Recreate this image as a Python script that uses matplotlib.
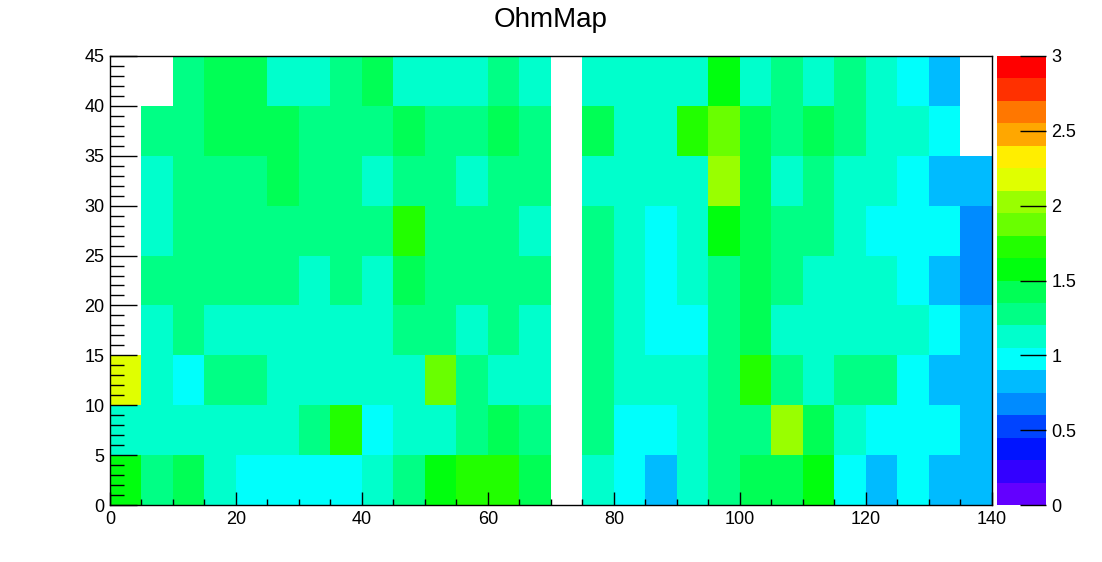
import numpy as np
import matplotlib
matplotlib.use("Agg")
import matplotlib.pyplot as plt
from matplotlib.colors import ListedColormap, BoundaryNorm
from matplotlib.ticker import MultipleLocator

plt.rcParams['font.family'] = ['Liberation Sans', 'DejaVu Sans']

# bin edges of the 2D histogram
x_edges = np.arange(0, 145, 5)
y_edges = np.arange(0, 50, 5)

# cell contents, top row (y 40-45) first; 0 = empty bin
ohm_rows = [
    [0, 0, 1.28, 1.43, 1.43, 1.13, 1.13, 1.28, 1.43, 1.13, 1.13, 1.13, 1.28, 1.13, 0, 1.13, 1.13, 1.13, 1.13, 1.58, 1.13, 1.28, 1.13, 1.28, 1.13, 0.98, 0.83, 0],
    [0, 1.28, 1.28, 1.43, 1.43, 1.43, 1.28, 1.28, 1.28, 1.43, 1.28, 1.28, 1.43, 1.28, 0, 1.43, 1.13, 1.13, 1.73, 1.88, 1.43, 1.28, 1.43, 1.28, 1.13, 1.13, 0.98, 0],
    [0, 1.13, 1.28, 1.28, 1.28, 1.43, 1.28, 1.28, 1.13, 1.28, 1.28, 1.13, 1.28, 1.28, 0, 1.13, 1.13, 1.13, 1.13, 2.03, 1.43, 1.13, 1.28, 1.13, 1.13, 0.98, 0.83, 0.83],
    [0, 1.13, 1.28, 1.28, 1.28, 1.28, 1.28, 1.28, 1.28, 1.73, 1.28, 1.28, 1.28, 1.13, 0, 1.28, 1.13, 0.98, 1.13, 1.58, 1.43, 1.28, 1.28, 1.13, 0.98, 0.98, 0.98, 0.68],
    [0, 1.28, 1.28, 1.28, 1.28, 1.28, 1.13, 1.28, 1.13, 1.43, 1.28, 1.28, 1.28, 1.28, 0, 1.28, 1.13, 0.98, 1.13, 1.28, 1.43, 1.28, 1.13, 1.13, 1.13, 0.98, 0.83, 0.68],
    [0, 1.13, 1.28, 1.13, 1.13, 1.13, 1.13, 1.13, 1.13, 1.28, 1.28, 1.13, 1.28, 1.13, 0, 1.28, 1.13, 0.98, 0.98, 1.28, 1.43, 1.13, 1.13, 1.13, 1.13, 1.13, 0.98, 0.83],
    [2.18, 1.13, 0.98, 1.28, 1.28, 1.13, 1.13, 1.13, 1.13, 1.13, 1.88, 1.28, 1.13, 1.13, 0, 1.28, 1.13, 1.13, 1.13, 1.28, 1.73, 1.28, 1.13, 1.28, 1.28, 0.98, 0.83, 0.83],
    [1.13, 1.13, 1.13, 1.13, 1.13, 1.13, 1.28, 1.73, 0.98, 1.13, 1.13, 1.28, 1.43, 1.28, 0, 1.28, 0.98, 0.98, 1.13, 1.28, 1.28, 2.03, 1.43, 1.13, 0.98, 0.98, 0.98, 0.83],
    [1.58, 1.28, 1.43, 1.13, 0.98, 0.98, 0.98, 0.98, 1.13, 1.28, 1.58, 1.73, 1.73, 1.43, 0, 1.13, 0.98, 0.83, 1.13, 1.28, 1.43, 1.43, 1.58, 0.98, 0.83, 0.98, 0.83, 0.83],
]

z_min, z_max, n_levels = 0.0, 3.0, 20
palette = ['#6300ff', '#3300ff', '#0014ff', '#0044ff', '#008bff',
           '#00bbff', '#00fffc', '#00ffcc', '#00ff85', '#00ff55',
           '#00ff0e', '#22ff00', '#69ff00', '#99ff00', '#e0ff00',
           '#ffee00', '#ffa700', '#ff7700', '#ff3000', '#ff0000']

W, H = 1102, 562
fig = plt.figure(figsize=(W / 100, H / 100), dpi=100)
ax = fig.add_axes([110 / W, 1 - 505 / H, (992 - 110) / W, (505 - 56) / H])
cax = fig.add_axes([997 / W, 1 - 505 / H, (1046 - 997) / W, (505 - 56) / H])

z = np.array(ohm_rows[::-1])
z = np.ma.masked_where(z <= 0, z)
cmap = ListedColormap(palette)
norm = BoundaryNorm(np.linspace(z_min, z_max, n_levels + 1), cmap.N)
mesh = ax.pcolormesh(x_edges, y_edges, z, cmap=cmap, norm=norm, zorder=1)

ax.set_xlim(x_edges[0], x_edges[-1])
ax.set_ylim(y_edges[0], y_edges[-1])
ax.xaxis.set_major_locator(MultipleLocator(20))
ax.xaxis.set_minor_locator(MultipleLocator(5))
ax.yaxis.set_major_locator(MultipleLocator(5))
ax.yaxis.set_minor_locator(MultipleLocator(1))
ax.tick_params(axis='both', which='both', direction='in', top=False, right=False,
               labelsize=13, width=1, colors='black')
ax.tick_params(axis='x', which='major', length=9.5, pad=4)
ax.tick_params(axis='x', which='minor', length=4.5)
ax.tick_params(axis='y', which='major', length=19.5, pad=4)
ax.tick_params(axis='y', which='minor', length=10)
ax.set_axisbelow(False)
for sp in ax.spines.values():
    sp.set_linewidth(1)
    sp.set_zorder(5)

cb = fig.colorbar(mesh, cax=cax)
cb.outline.set_visible(False)
cb.set_ticks([0, 0.5, 1, 1.5, 2, 2.5, 3])
cb.set_ticklabels(['0', '0.5', '1', '1.5', '2', '2.5', '3'])
cax.tick_params(axis='y', which='both', direction='in', length=19, width=1,
                labelsize=13, pad=4, right=True, left=False)
cax.minorticks_off()

fig.text(0.5, 1 - 20 / H, 'OhmMap', ha='center', va='center', fontsize=20)

fig.savefig('out.png', dpi=100)
